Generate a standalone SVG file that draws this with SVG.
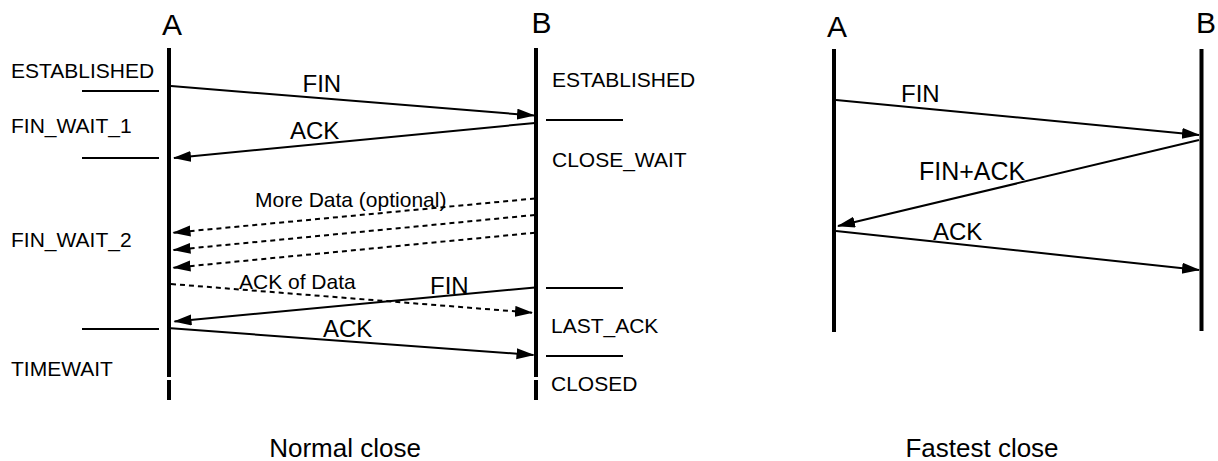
<svg xmlns="http://www.w3.org/2000/svg" width="1218" height="461" viewBox="0 0 1218 461">
<defs>
<marker id="ah" markerUnits="userSpaceOnUse" markerWidth="18" markerHeight="12" refX="17" refY="5.5" orient="auto">
<path d="M0,0 L18,5.5 L0,11 Z" fill="#000"/>
</marker>
<style>
text{font-family:"Liberation Sans",Arial,sans-serif;fill:#000}
.life{stroke:#000;stroke-width:4;fill:none}
.sep{stroke:#000;stroke-width:2;fill:none}
.msg{stroke:#000;stroke-width:2;fill:none;marker-end:url(#ah)}
.dash{stroke-dasharray:5,4}
.hdr{font-size:30px;text-anchor:middle}
.st{font-size:21px}
.lbl{font-size:24px}
.dl{font-size:21px}
.cap{font-size:26px;text-anchor:middle}
</style>
</defs>
<rect width="1218" height="461" fill="#fff"/>

<g id="normal-A">
<line class="life" x1="169" y1="48" x2="169" y2="377"/>
<line class="life" x1="169" y1="380" x2="169" y2="400"/>
<text class="hdr" x="172" y="35">A</text>
</g>
<g id="normal-B">
<line class="life" x1="536" y1="48" x2="536" y2="377"/>
<line class="life" x1="536" y1="380" x2="536" y2="400"/>
<text class="hdr" x="541.5" y="33">B</text>
</g>

<g id="states-A">
<text class="st" x="11" y="78">ESTABLISHED</text>
<line class="sep" x1="82" y1="91" x2="159" y2="91"/>
<text class="st" x="11" y="133">FIN_WAIT_1</text>
<line class="sep" x1="82" y1="158" x2="159" y2="158"/>
<text class="st" x="11" y="247">FIN_WAIT_2</text>
<line class="sep" x1="82" y1="329" x2="159" y2="329"/>
<text class="st" x="11" y="376">TIMEWAIT</text>
</g>
<g id="states-B">
<text class="st" x="552" y="87">ESTABLISHED</text>
<line class="sep" x1="546" y1="120" x2="623" y2="120"/>
<text class="st" x="552" y="167">CLOSE_WAIT</text>
<line class="sep" x1="546" y1="288" x2="623" y2="288"/>
<text class="st" x="551" y="333">LAST_ACK</text>
<line class="sep" x1="546" y1="356" x2="623" y2="356"/>
<text class="st" x="551" y="391">CLOSED</text>
</g>

<g id="fast-A">
<line class="life" x1="834" y1="49" x2="834" y2="332"/>
<text class="hdr" x="837" y="37">A</text>
</g>
<g id="fast-B">
<line class="life" x1="1201.5" y1="49" x2="1201.5" y2="331"/>
<text class="hdr" x="1206" y="33">B</text>
</g>

<g id="connectors">
<line class="msg" x1="171" y1="86" x2="534" y2="115.5"/>
<line class="msg" x1="535" y1="123" x2="174" y2="158"/>
<line class="msg dash" x1="535" y1="198.5" x2="173.5" y2="232.7"/>
<line class="msg dash" x1="535" y1="215" x2="173.5" y2="250"/>
<line class="msg dash" x1="535" y1="232.7" x2="173.5" y2="267.7"/>
<line class="msg dash" x1="171" y1="284" x2="532" y2="312.7"/>
<line class="msg" x1="535" y1="287.5" x2="174.5" y2="321.5"/>
<line class="msg" x1="171" y1="328.3" x2="533.5" y2="355"/>
<line class="msg" x1="836" y1="100" x2="1199" y2="135"/>
<line class="msg" x1="1199" y1="140" x2="838" y2="226"/>
<line class="msg" x1="836" y1="231" x2="1199" y2="270"/>
</g>

<g id="labels">
<text class="lbl" x="302.5" y="91.5">FIN</text>
<text class="lbl" x="290" y="138.5">ACK</text>
<text class="dl" x="255" y="207">More Data (optional)</text>
<text class="dl" x="239" y="289">ACK of Data</text>
<text class="lbl" x="430" y="294">FIN</text>
<text class="lbl" x="323" y="336.5">ACK</text>
<text class="lbl" x="901" y="102">FIN</text>
<text class="lbl" x="919" y="180" style="font-size:25px">FIN+ACK</text>
<text class="lbl" x="933" y="240">ACK</text>
</g>

<g id="captions">
<text class="cap" x="345" y="457">Normal close</text>
<text class="cap" x="982" y="457">Fastest close</text>
</g>
</svg>
